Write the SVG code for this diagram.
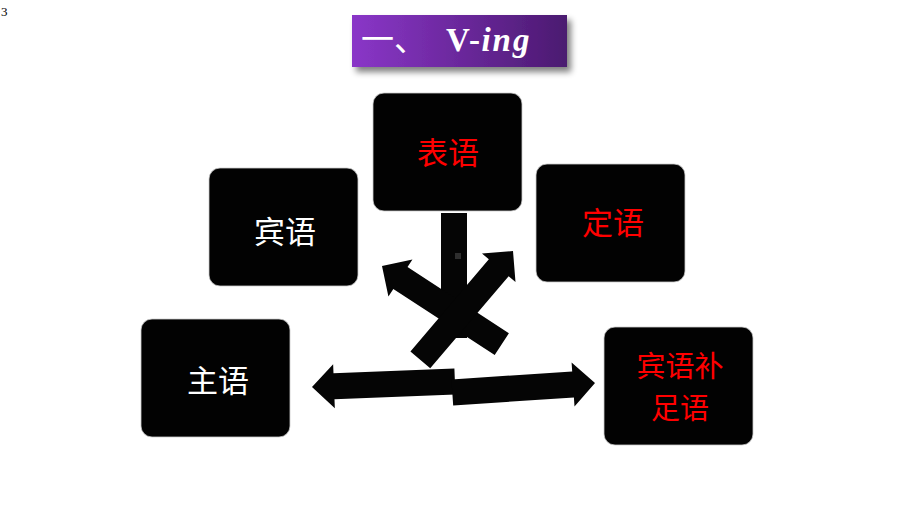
<svg xmlns="http://www.w3.org/2000/svg" width="920" height="518" viewBox="0 0 920 518">
<defs>
<linearGradient id="tg" x1="0" y1="0" x2="1" y2="0">
<stop offset="0" stop-color="#8a36c8"/>
<stop offset="1" stop-color="#4b1a70"/>
</linearGradient>
<filter id="sh" x="-20%" y="-40%" width="140%" height="200%">
<feGaussianBlur in="SourceAlpha" stdDeviation="3"/>
<feOffset dx="4" dy="5" result="b"/>
<feComponentTransfer><feFuncA type="linear" slope="0.5"/></feComponentTransfer>
<feMerge><feMergeNode/><feMergeNode in="SourceGraphic"/></feMerge>
</filter>
<polygon id="arr" points="0,0 -22,-22 -22,-13 -143,-13 -143,13 -22,13 -22,22"/>
</defs>
<style>
.box{fill:#020202;stroke:#cccccc;stroke-width:0.8}
.t{font-family:"Noto Sans CJK SC","Noto Sans CJK JP",sans-serif;font-size:31px;text-anchor:middle;dominant-baseline:central}
.t2{font-size:29px}
.red{fill:#ff0000}
.wh{fill:#ffffff}
.ar{fill:#050505}
</style>
<rect width="920" height="518" fill="#ffffff"/>
<text x="1" y="16" font-family="Liberation Serif, serif" font-size="13" fill="#000000">3</text>
<g id="title">
<rect x="352" y="15" width="215" height="52" fill="url(#tg)" filter="url(#sh)"/>
<text y="51" fill="#ffffff" font-family="Liberation Serif, serif" font-size="33" font-weight="bold"><tspan x="361" font-family="'Noto Sans CJK SC', sans-serif" font-weight="normal">一、</tspan><tspan x="446" letter-spacing="1.5">V-</tspan><tspan font-style="italic" letter-spacing="2">ing</tspan></text>
</g>
<g id="connectors">
<rect class="ar" x="441" y="213" width="26" height="125"/>
<rect x="455" y="253" width="6" height="6" fill="#2e2e2e"/>
<use href="#arr" class="ar" transform="translate(382,266) rotate(213.1)"/>
<use href="#arr" class="ar" transform="translate(513,251) rotate(-49.6)"/>
<use href="#arr" class="ar" transform="translate(312,387) rotate(177.8)"/>
<use href="#arr" class="ar" transform="translate(595,383) rotate(-3.8)"/>
</g>
<g id="n-biaoyu">
<rect class="box" x="373" y="93" width="149" height="118" rx="11"/>
<text class="t red" x="448" y="150">表语</text>
</g>
<g id="n-binyu">
<rect class="box" x="209" y="168" width="149" height="118" rx="11"/>
<text class="t wh" x="285" y="229">宾语</text>
</g>
<g id="n-dingyu">
<rect class="box" x="536" y="164" width="149" height="118" rx="11"/>
<text class="t red" x="613" y="220">定语</text>
</g>
<g id="n-zhuyu">
<rect class="box" x="141" y="319" width="149" height="118" rx="11"/>
<text class="t wh" x="218" y="378">主语</text>
</g>
<g id="n-buzu">
<rect class="box" x="604" y="327" width="149" height="118" rx="11"/>
<text class="t t2 red" x="680" y="364">宾语补</text>
<text class="t t2 red" x="680" y="406">足语</text>
</g>
</svg>
